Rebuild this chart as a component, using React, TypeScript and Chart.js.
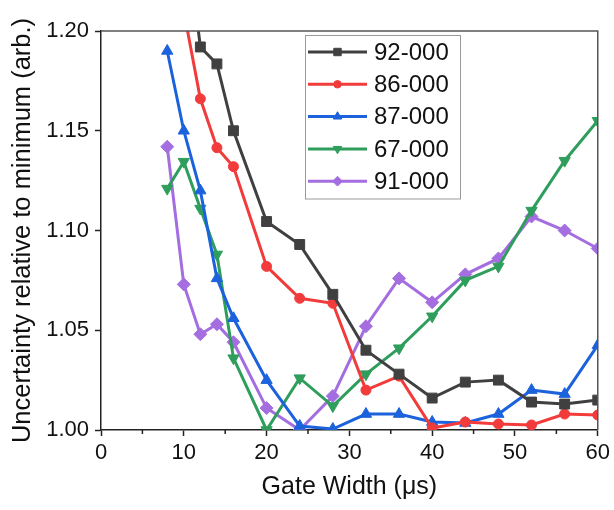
import React, { useEffect, useRef } from "react";
import { Chart, registerables } from "chart.js";
import { drawPoint } from "chart.js/helpers";

Chart.register(...registerables);

const gateWidths = [8, 10, 12, 14, 16, 20, 24, 28, 32, 36, 40, 44, 48, 52, 56, 60];
const s92000 = [null, 1.26, 1.192, 1.1835, 1.15, 1.1045, 1.093, 1.068, 1.04, 1.028, 1.016, 1.024, 1.025, 1.014, 1.013, 1.015];
const s86000 = [null, 1.21, 1.166, 1.1415, 1.132, 1.082, 1.066, 1.0635, 1.02, 1.027, 1.001, 1.004, 1.003, 1.0025, 1.008, 1.0075];
const s87000 = [1.19, 1.15, 1.12, 1.076, 1.056, 1.025, 1.002, 1.0005, 1.008, 1.008, 1.004, 1.0035, 1.008, 1.02, 1.018, 1.0425];
const s67000 = [1.121, 1.1345, 1.111, 1.088, 1.036, 1.0, 1.026, 1.012, 1.028, 1.041, 1.057, 1.075, 1.082, 1.11, 1.135, 1.155];
const s91000 = [1.142, 1.073, 1.048, 1.053, 1.044, 1.011, 1.0, 1.017, 1.052, 1.076, 1.064, 1.078, 1.086, 1.107, 1.1, 1.091];

const seriesNames = ["92-000", "86-000", "87-000", "67-000", "91-000"];
const seriesValues = [s92000, s86000, s87000, s67000, s91000];
const seriesColors = ["#404040", "#f23b3b", "#1c62dc", "#2f9e5c", "#a46ee0"];
const seriesMarkers = ["rect", "circle", "triangle", "triangle", "rectRot"];
const seriesRotations = [0, 0, 0, 180, 0];
const seriesRadii = [7, 5, 6.5, 6.5, 6.5];

const xMin = 0, xMax = 60, xStep = 10, xMinorStep = 5;
const yMin = 1.0, yMax = 1.2, yStep = 0.05;
const xTitle = "Gate Width (\u03bcs)";
const yTitle = "Uncertainty relative to minimum (arb.)";

const FONT = "Arial, 'Liberation Sans', sans-serif";

export default function App() {
  const ref = useRef<HTMLCanvasElement | null>(null);

  useEffect(() => {
    document.body.style.margin = "0";
    const canvas = ref.current;
    if (!canvas) return;

    const datasets = seriesNames.map((name, i) => ({
      label: name,
      data: gateWidths.map((x, j) => ({ x, y: seriesValues[i][j] })),
      borderColor: seriesColors[i],
      backgroundColor: seriesColors[i],
      borderWidth: 3,
      pointStyle: seriesMarkers[i],
      pointRotation: seriesRotations[i],
      pointRadius: seriesRadii[i],
      pointBorderWidth: 1,
      pointBackgroundColor: seriesColors[i],
      pointBorderColor: seriesColors[i],
      tension: 0,
      spanGaps: false,
    }));

    const framePlugin = {
      id: "frame",
      afterDraw(chart: any) {
        const { ctx, chartArea } = chart;
        const { left, right, top, bottom } = chartArea;
        ctx.save();
        ctx.strokeStyle = "#555";
        ctx.lineWidth = 1.5;
        ctx.beginPath();
        ctx.moveTo(left, top);
        ctx.lineTo(right, top);
        ctx.lineTo(right, bottom);
        ctx.stroke();
        // minor ticks on x
        const xs = chart.scales.x;
        ctx.strokeStyle = "#222";
        ctx.lineWidth = 1.5;
        for (let v = xMin + xMinorStep; v < xMax; v += xStep) {
          const px = xs.getPixelForValue(v);
          ctx.beginPath();
          ctx.moveTo(px, bottom);
          ctx.lineTo(px, bottom + 4);
          ctx.stroke();
        }
        // legend
        const bx = left + 204;
        const by = top + 4;
        const bw = 155;
        const rowH = 32.3;
        const bh = rowH * seriesNames.length + 2;
        ctx.fillStyle = "#fff";
        ctx.fillRect(bx, by, bw, bh);
        ctx.strokeStyle = "#9a9a9a";
        ctx.lineWidth = 1;
        ctx.strokeRect(bx + 0.5, by + 0.5, bw, bh);
        ctx.font = `24px ${FONT}`;
        ctx.textBaseline = "middle";
        ctx.textAlign = "left";
        seriesNames.forEach((name, i) => {
          const cy = by + 17 + i * rowH;
          const x0 = bx + 3;
          const x1 = bx + 62;
          ctx.strokeStyle = seriesColors[i];
          ctx.lineWidth = 3;
          ctx.beginPath();
          ctx.moveTo(x0, cy);
          ctx.lineTo(x1, cy);
          ctx.stroke();
          ctx.fillStyle = seriesColors[i];
          ctx.strokeStyle = seriesColors[i];
          ctx.lineWidth = 1;
          drawPoint(ctx, { pointStyle: seriesMarkers[i], rotation: seriesRotations[i], radius: seriesRadii[i] * 0.75, borderWidth: 1 }, (x0 + x1) / 2, cy);
          ctx.fillStyle = "#111";
          ctx.fillText(name, x1 + 7, cy + 1);
        });
        ctx.restore();
      },
    };

    const chart = new Chart(canvas, {
      type: "line",
      data: { datasets },
      options: {
        animation: false,
        responsive: false,
        devicePixelRatio: 1,
        layout: { padding: { top: 31, right: 14, left: 0, bottom: 0 } },
        plugins: { legend: { display: false }, tooltip: { enabled: false } },
        scales: {
          x: {
            type: "linear",
            min: xMin,
            max: xMax,
            afterFit(scale: any) { scale.height = 80; },
            ticks: {
              stepSize: xStep,
              color: "#111",
              font: { family: FONT, size: 22 },
              padding: 4,
              maxRotation: 0,
              callback: (v: any) => String(v),
            },
            grid: { drawOnChartArea: false, tickLength: 6, color: "#222", tickWidth: 1.5 },
            border: { display: true, color: "#222", width: 1.5 },
            title: {
              display: true,
              text: xTitle,
              color: "#111",
              font: { family: FONT, size: 25 },
              padding: { top: 0, bottom: 8 },
            },
          },
          y: {
            type: "linear",
            min: yMin,
            max: yMax,
            afterFit(scale: any) { scale.width = 101; },
            ticks: {
              stepSize: yStep,
              color: "#111",
              font: { family: FONT, size: 22 },
              padding: 6,
              callback: (v: any) => Number(v).toFixed(2),
            },
            grid: { drawOnChartArea: false, tickLength: 6, color: "#222", tickWidth: 1.5 },
            border: { display: true, color: "#222", width: 1.5 },
            title: {
              display: true,
              text: yTitle,
              color: "#111",
              font: { family: FONT, size: 25.5 },
              padding: { top: 8, bottom: 0 },
            },
          },
        },
      },
      plugins: [framePlugin],
    } as any);

    return () => chart.destroy();
  }, []);

  return <canvas ref={ref} width={614} height={510} style={{ display: "block" }} />;
}
